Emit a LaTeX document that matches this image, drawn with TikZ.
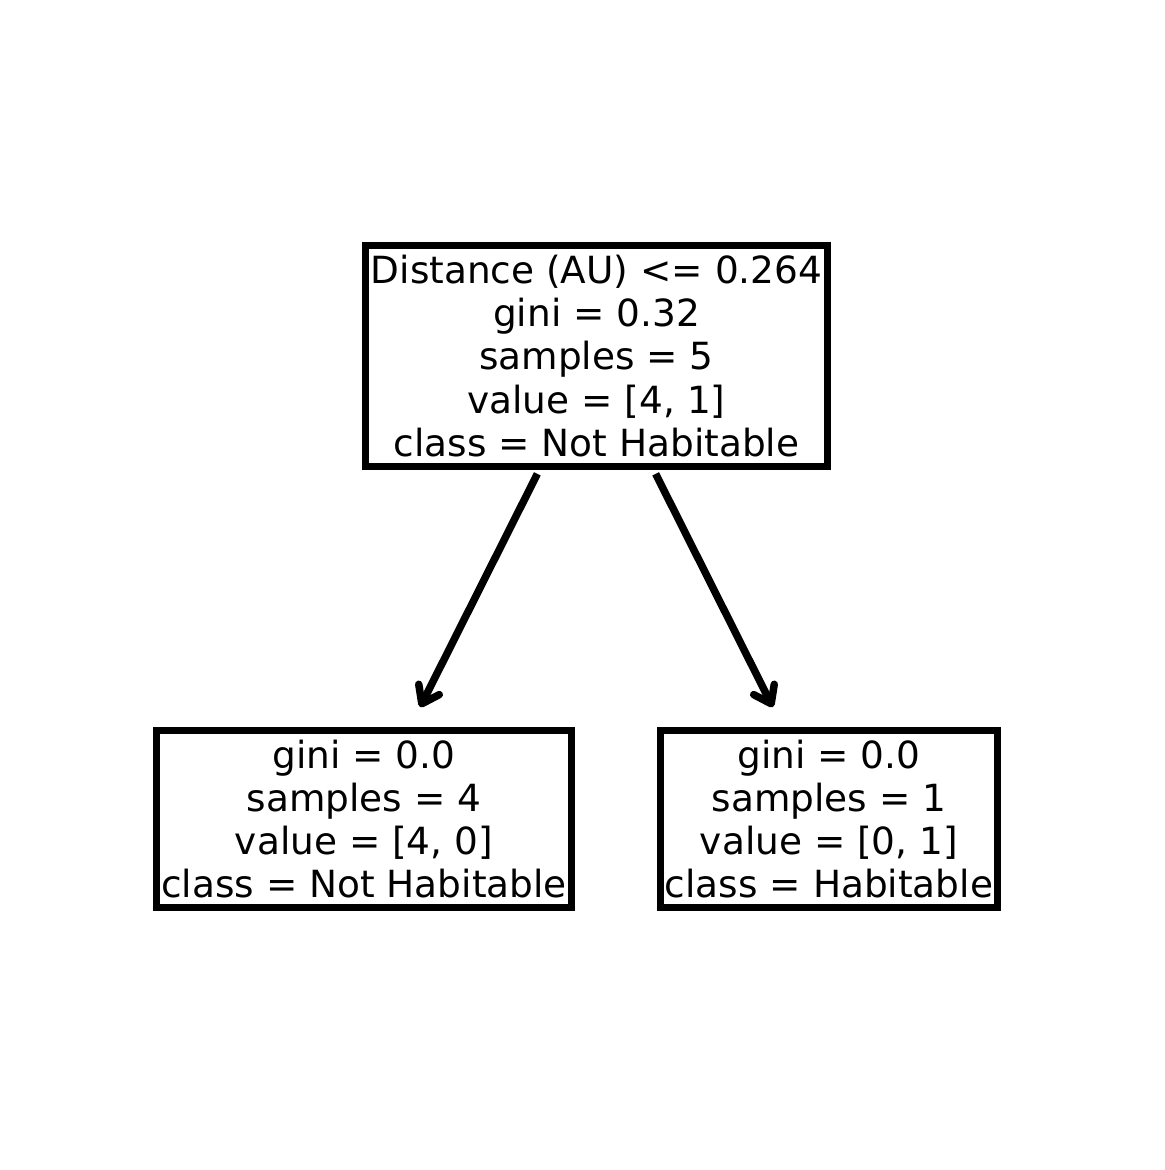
\documentclass[tikz,border=0pt]{standalone}
\usepackage{fontspec}
\setmainfont{DejaVu Sans}
\usetikzlibrary{arrows.meta}

\begin{document}
\begin{tikzpicture}[x=0.1mm, y=-0.1mm, >={Straight Barb[length=1.6mm, width=2.3mm, round]},
    font=\fontsize{10.65}{12.25}\selectfont,
    treenode/.style={rectangle, draw, line width=0.75mm, align=center, inner sep=0pt},
    edge/.style={->, line width=0.75mm, shorten <=0.4mm, shorten >=2.2mm}]
  \useasboundingbox (0,0) rectangle (1164,1170);
  \node[treenode, minimum width=46.2mm, minimum height=22.1mm] (root) at (596.5,356)
    {Distance (AU) <= 0.264\\gini = 0.32\\samples = 5\\value = [4, 1]\\class = Not Habitable};
  \node[treenode, minimum width=41.5mm, minimum height=17.7mm] (left) at (364,819)
    {gini = 0.0\\samples = 4\\value = [4, 0]\\class = Not Habitable};
  \node[treenode, minimum width=33.7mm, minimum height=17.7mm] (right) at (829,819)
    {gini = 0.0\\samples = 1\\value = [0, 1]\\class = Habitable};
  \draw[edge] (root) -- (left);
  \draw[edge] (root) -- (right);
\end{tikzpicture}
\end{document}
